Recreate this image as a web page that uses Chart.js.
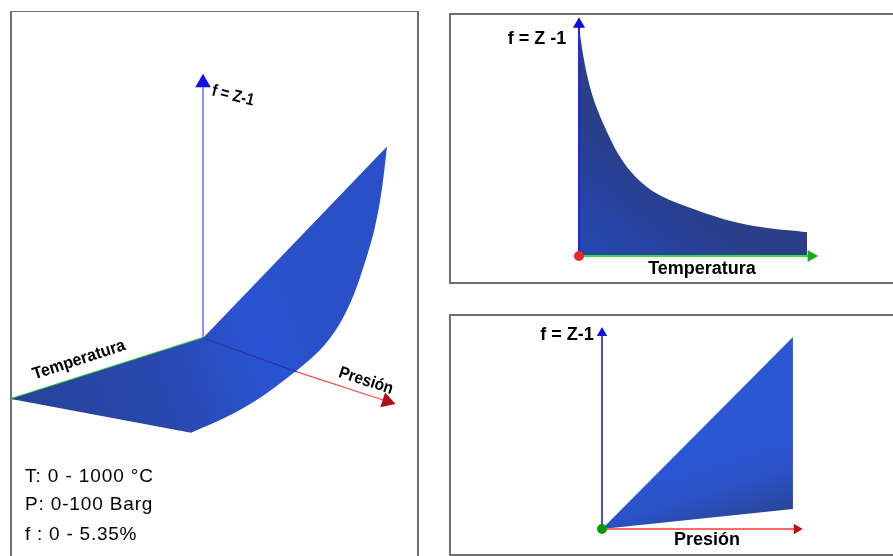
<!DOCTYPE html>
<html><head><meta charset="utf-8">
<script src="https://cdn.jsdelivr.net/npm/chart.js@4/dist/chart.umd.js"></script>
<style>
html,body{margin:0;padding:0;background:#fff;overflow:hidden;width:893px;height:556px}
.panel{position:absolute;border:solid #707070;box-sizing:border-box}
canvas{position:absolute;display:block}
</style></head><body>
<div class="panel" style="left:10px;top:11px;width:409px;height:560px;border-width:1.5px 2px 0 2px"></div>
<div class="panel" style="left:449px;top:13px;width:460px;height:271px;border-width:2px"></div>
<div class="panel" style="left:449px;top:314px;width:460px;height:242px;border-width:2px"></div>
<canvas id="c1" width="406" height="544" style="left:11px;top:12px"></canvas>
<canvas id="c2" width="443" height="268" style="left:450px;top:14px"></canvas>
<canvas id="c3" width="443" height="239" style="left:450px;top:315px"></canvas>
<script>
// values
const temperatures = [0, 18, 35, 61, 83, 105, 123, 167, 224, 298, 368, 487, 632, 781, 1000]; // °C
const fAtMaxPressure = [5.35, 4.72, 4.25, 3.73, 3.40, 3.12, 2.91, 2.44, 2.00, 1.62, 1.39, 1.13, 0.87, 0.69, 0.56]; // %
const pressures = [0, 100]; // Barg
const fAtMinTemperature = [0, 5.35];
const fAtMaxTemperature = [0, 0.56];
const infoLines = ['T: 0 - 1000 °C', 'P: 0-100 Barg', 'f : 0 - 5.35%'];
const tempLabel = 'Temperatura';
const presLabel = 'Presión';

// oblique projection of the 3D view, with a slight perspective term
const proj = (T, P, f) => ({
  x: 1.84 * P - 0.192 * T * (1 + 0.0002083 * P),
  y: -0.60 * P - 0.061 * T + 47 * f
});

const hidden = (min, max) => ({ type: 'linear', display: false, min, max });
const labelPlugin = {
  id: 'labels',
  afterDraw(chart, _a, opts) {
    const c = chart.ctx;
    (opts.items || []).forEach(l => {
      c.save();
      c.translate(l.x, l.y);
      c.rotate((l.rot || 0) * Math.PI / 180);
      c.scale(l.sx || 1, 1);
      c.font = l.font;
      c.letterSpacing = l.ls || '0px';
      c.fillStyle = '#000';
      c.textAlign = l.align || 'center';
      c.textBaseline = 'middle';
      c.fillText(l.text, 0, 0);
      c.restore();
    });
  }
};
function make(id, datasets, xr, yr, items) {
  return new Chart(document.getElementById(id), {
    type: 'scatter',
    data: { datasets },
    options: {
      responsive: false, animation: false, events: [],
      layout: { padding: 0, autoPadding: false },
      scales: { x: hidden(xr[0], xr[1]), y: hidden(yr[0], yr[1]) },
      plugins: { legend: { display: false }, tooltip: { enabled: false }, labels: { items } }
    },
    plugins: [labelPlugin]
  });
}
function axis(points, color, width, arrowColor, r, rot, order) {
  const n = points.length;
  return {
    data: points, showLine: true, borderColor: color, borderWidth: width, order,
    pointStyle: 'triangle',
    pointRadius: points.map((_, i) => i === n - 1 ? r : 0),
    pointRotation: points.map(() => rot),
    pointBackgroundColor: arrowColor, pointBorderColor: arrowColor, pointBorderWidth: 0
  };
}
const dot = (pt, color, r, order) => ({
  data: [pt], pointStyle: 'circle', pointRadius: r, pointBackgroundColor: color,
  pointBorderWidth: 0, showLine: false, order
});
function grad(id, x0, y0, x1, y1, stops) {
  const g = document.getElementById(id).getContext('2d').createLinearGradient(x0, y0, x1, y1);
  stops.forEach(s => g.addColorStop(s[0], s[1]));
  return g;
}
const face = (data, fill, bg, order, mono) => ({
  data, showLine: true, fill, backgroundColor: bg, borderWidth: 0, pointRadius: 0, order,
  borderColor: 'rgba(0,0,0,0)', cubicInterpolationMode: mono ? 'monotone' : 'default', tension: 0
});

// Panel 1: 3D view
const upper3d = [proj(1000, 0, 0), proj(0, 0, 0), proj(0, 100, fAtMinTemperature[1])];
const flatEdge3d = [proj(1000, 0, 0), proj(1000, 100, fAtMaxPressure[fAtMaxPressure.length - 1])];
const curve3d = temperatures.map((T, i) => proj(T, 100, fAtMaxPressure[i])).reverse();
const surf3d = grad('c1', 0, 387, 300, 280, [[0, '#27429a'], [0.45, '#2848ae'], [0.8, '#2a54d4'], [1, '#2a50c8']]);
make('c1', [
  face(upper3d, 1, surf3d, 5),
  face(flatEdge3d, false, 'rgba(0,0,0,0)', 6),
  face(upper3d, 3, surf3d, 5),
  face(curve3d, false, 'rgba(0,0,0,0)', 6, true),
  axis([proj(0, 0, 0), proj(1000, 0, 0)], '#33cc33', 2, '#33cc33', 0, 0, 7),
  axis([proj(0, 0, 0), proj(0, 0, 5.43)], '#6a6aff', 1.5, '#1010e0', 9, 0, 7),
  axis([proj(0, 0, 0), proj(0, 51, -0.07)], '#2a36a4', 1.2, '#2a36a4', 0, 0, 3),
  axis([proj(0, 51, -0.07), proj(0, 100, -0.07)], '#ff4a4a', 1.2, '#b30f14', 9, 108, 3)
], [-192, 214], [-218, 326], [
  { text: 'f = Z-1', x: 222, y: 84, rot: 14, font: 'bold 17px "Liberation Sans"', sx: 0.85 },
  { text: tempLabel, x: 68, y: 348, rot: -18, font: 'bold 17px "Liberation Sans"', sx: 0.95 },
  { text: presLabel, x: 355, y: 369, rot: 18, font: 'bold 17px "Liberation Sans"', sx: 0.9 },
  { text: infoLines[0], x: 14, y: 465, align: 'left', font: '19px "Liberation Sans"', ls: '0.9px' },
  { text: infoLines[1], x: 14, y: 493, align: 'left', font: '19px "Liberation Sans"', ls: '0.85px' },
  { text: infoLines[2], x: 14, y: 523, align: 'left', font: '19px "Liberation Sans"', ls: '0.75px' }
]);

// Panel 2: f against temperature
const curve = temperatures.map((T, i) => ({ x: T, y: fAtMaxPressure[i] }));
make('c2', [
  face(curve, 'origin', grad('c2', 129, 242, 200, 150, [[0, '#2449b4'], [0.6, '#27419a'], [1, '#2a3f88']]), 5, true),
  axis([{ x: 0, y: 0 }, { x: 1018, y: 0 }], '#3ddc3d', 2, '#16b016', 7, 90, 3),
  axis([{ x: 0, y: 0 }, { x: 0, y: 5.44 }], '#1a2be0', 2, '#0c0ce0', 7, 0, 3),
  dot({ x: 0, y: 0 }, '#e52a2a', 5, 2)
], [-565.8, 1377.2], [-0.61, 5.678], [
  { text: 'f = Z -1', x: 87, y: 25, font: 'bold 18px "Liberation Sans"' },
  { text: tempLabel, x: 252, y: 255, font: 'bold 18px "Liberation Sans"' }
]);

// Panel 3: f against pressure
const top3 = pressures.map((P, i) => ({ x: P, y: fAtMinTemperature[i] }));
const low3 = pressures.map((P, i) => ({ x: P, y: fAtMaxTemperature[i] }));
make('c3', [
  face(top3, 1, grad('c3', 300, 130, 320, 195, [[0, '#2c57d4'], [0.5, '#2b52c6'], [1, '#28479f']]), 5),
  face(low3, false, 'rgba(0,0,0,0)', 6),
  axis([{ x: 0, y: 0 }, { x: 102, y: 0 }], '#ff6a6a', 2, '#c01010', 6, 90, 3),
  axis([{ x: 0, y: 0 }, { x: 0, y: 5.46 }], '#4a4ae8', 2, '#1414dc', 6, 0, 3),
  dot({ x: 0, y: 0 }, '#0a9a0a', 5, 2)
], [-79.6, 152.4], [-0.697, 5.963], [
  { text: 'f = Z-1', x: 117, y: 20, font: 'bold 18px "Liberation Sans"' },
  { text: presLabel, x: 257, y: 225, font: 'bold 18px "Liberation Sans"' }
]);
</script>
</body></html>
